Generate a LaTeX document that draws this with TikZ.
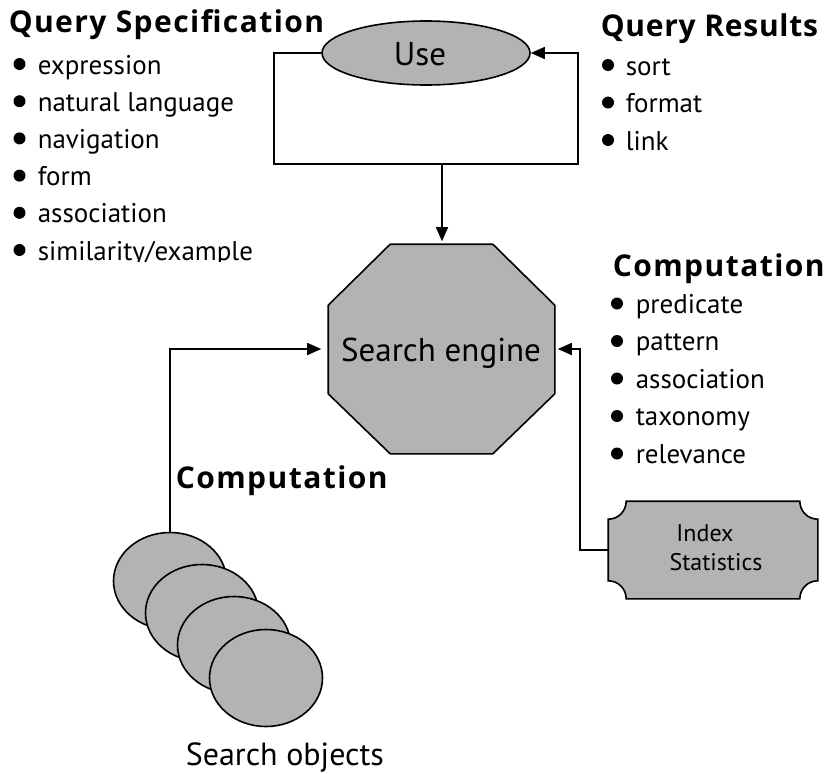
\documentclass[tikz,border=0pt]{standalone}
\usepackage{fontspec}
\setmainfont{PT Sans}[BoldFont={PT Sans Bold}]
\newfontfamily\headfont{Open Sans}[LetterSpace=4.8]
\newfontfamily\headfontnarrow{Open Sans}[LetterSpace=2.5]
\usetikzlibrary{arrows.meta,calc,shapes.geometric}
\definecolor{shapegray}{RGB}{179,179,179}
\begin{document}
\begin{tikzpicture}[x=1pt,y=-1pt,
  line width=1.6pt,
  arrowline/.style={draw,-{Triangle[length=14pt,width=12pt]}},
  heading/.style={anchor=base west,inner sep=0pt,font=\headfont\fontsize{30}{33}\selectfont\bfseries},
  headingnarrow/.style={anchor=base west,inner sep=0pt,font=\headfontnarrow\fontsize{30}{33}\selectfont\bfseries},
  item/.style={anchor=base west,inner sep=0pt,font=\fontsize{27}{30}\selectfont},
  bigtext/.style={font=\fontsize{33}{36}\selectfont},
  obj/.style={ellipse,draw,fill=shapegray,minimum width=113pt,minimum height=97pt,inner sep=0pt},
]
\useasboundingbox (0,0) rectangle (825,774);

% ---------- Query Specification list ----------
\node[heading] (qs) at (8,32) {Query Specification};
\begin{scope}
\clip (0,0) rectangle (300,261);
\foreach \t [count=\i] in {expression,natural language,navigation,form,association,similarity/example}{
  \node[item] (qs\i) at (37,{74+37.2*(\i-1)}) {\t};
  \fill ($(qs\i.base west)+(-17.5,-10)$) circle (6pt);
}
\end{scope}

% ---------- Query Results list ----------
\node[headingnarrow] (qr) at (600,36) {Query Results};
\foreach \t [count=\i] in {sort,format,link}{
  \node[item] (qr\i) at (625,{75+37.5*(\i-1)}) {\t};
  \fill ($(qr\i.base west)+(-17,-10)$) circle (6pt);
}

% ---------- Computation list (right) ----------
\node[heading] (cr) at (612,276) {Computation};
\foreach \t [count=\i] in {predicate,pattern,association,taxonomy,relevance}{
  \node[item] (cr\i) at (635,{313+37.5*(\i-1)}) {\t};
  \fill ($(cr\i.base west)+(-18,-9.5)$) circle (6pt);
}

% ---------- Computation (middle) ----------
\node[heading] (cm) at (175,488) {Computation};

% ---------- Use ellipse ----------
\node[ellipse,draw,fill=shapegray,minimum width=208pt,minimum height=64pt,inner sep=0pt] (use) at (426,53) {};
\node[bigtext,inner sep=0pt,anchor=base] (usetext) at (420,65) {Use};

% ---------- Search engine octagon ----------
\node[minimum width=225pt,minimum height=208pt,inner sep=0pt] (se) at (441.5,349) {};
\draw[fill=shapegray]
  ($(se.north west)+(62,0)$) -- ($(se.north east)+(-62,0)$) -- ($(se.north east)+(0,61)$)
  -- ($(se.south east)+(0,-60)$) -- ($(se.south east)+(-62,0)$) -- ($(se.south west)+(62,0)$)
  -- ($(se.south west)+(0,-60)$) -- ($(se.north west)+(0,61)$) -- cycle;
\node[bigtext,inner sep=0pt,anchor=base] (setext) at (441,361) {Search engine};

% ---------- Index Statistics ----------
\node[minimum width=208pt,minimum height=96pt,inner sep=0pt] (idx) at (713,550) {};
\def\r{18}\def\k{10}
\draw[fill=shapegray]
  ($(idx.north west)+(\r,0)$) -- ($(idx.north east)+(-\r,0)$)
  .. controls ($(idx.north east)+(-\r,\k)$) and ($(idx.north east)+(-\k,\r)$) .. ($(idx.north east)+(0,\r)$)
  -- ($(idx.south east)+(0,-\r)$)
  .. controls ($(idx.south east)+(-\k,-\r)$) and ($(idx.south east)+(-\r,-\k)$) .. ($(idx.south east)+(-\r,0)$)
  -- ($(idx.south west)+(\r,0)$)
  .. controls ($(idx.south west)+(\r,-\k)$) and ($(idx.south west)+(\k,-\r)$) .. ($(idx.south west)+(0,-\r)$)
  -- ($(idx.north west)+(0,\r)$)
  .. controls ($(idx.north west)+(\k,\r)$) and ($(idx.north west)+(\r,\k)$) .. cycle;
\node[align=center,inner sep=0pt,font=\fontsize{24}{29}\selectfont] (idxtext) at (716,548) {Index\hspace*{22pt}\\Statistics};

% ---------- Search objects ----------
\node[obj] (o1) at (170,581) {};
\node[obj] (o2) at (202,613) {};
\node[obj] (o3) at (234,645) {};
\node[obj] (o4) at (266,678) {};
\node[anchor=base west,inner sep=0pt,font=\fontsize{32}{35}\selectfont] (sobj) at (185,765) {Search objects};

% ---------- connectors ----------
\coordinate (lb) at (274,164);
\coordinate (rb) at (578,164);
\coordinate (mb) at (442,164);
\coordinate (ri) at (580,349);
\draw[arrowline] (use.west) -| (lb) -- (rb) |- (use.east);
\draw[arrowline,shorten >=3pt] (mb) -- (mb |- se.north);
\draw[arrowline,shorten >=7pt] (o1.north) |- (se.west);
\draw[arrowline,shorten >=3pt] (idx.west) -| (ri) -- (se.east);
\end{tikzpicture}
\end{document}
